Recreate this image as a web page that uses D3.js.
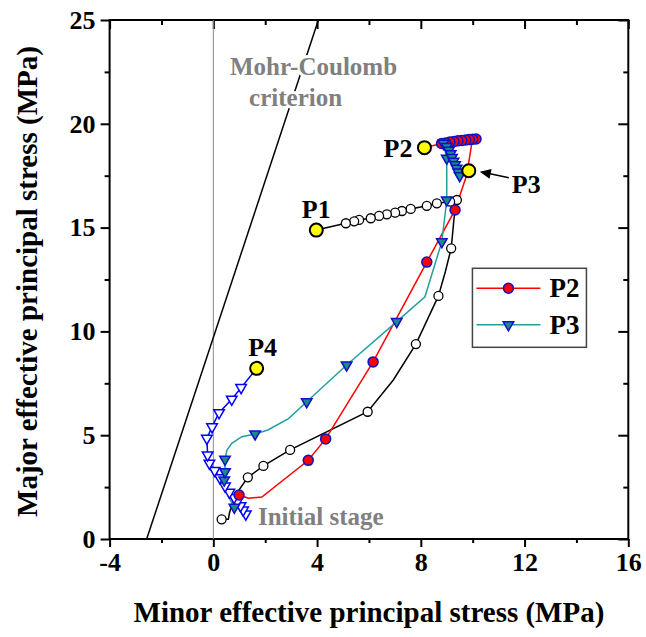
<!DOCTYPE html>
<html>
<head>
<meta charset="utf-8">
<script src="https://cdn.jsdelivr.net/npm/d3@7/dist/d3.min.js"></script>
<style>
  body { margin: 0; background: #fff; }
</style>
</head>
<body>
<script>
// Define SVG area dimensions
var svgWidth = 646;
var svgHeight = 637;

var chartMargin = { top: 20, right: 17.7, bottom: 98, left: 109.6 };
var chartWidth = svgWidth - chartMargin.left - chartMargin.right;
var chartHeight = svgHeight - chartMargin.top - chartMargin.bottom;

var fontFamily = "'Liberation Serif', 'Times New Roman', serif";

// Axis ticks
var xTicks = [-4, 0, 4, 8, 12, 16];
var xMinorTicks = [-2, 2, 6, 10, 14];
var yTicks = [0, 5, 10, 15, 20, 25];
var yMinorTicks = [2.5, 7.5, 12.5, 17.5, 22.5];

// Mohr-Coulomb criterion line (minor, major)
var mohrCoulomb = [[-2.57, 0], [4.05, 25]];

// P1 path (black, open circles) - line vertices and marked points
var p1Path = [[0.32, 0.95], [0.58, 0.95], [0.62, 1.24], [0.71, 1.64], [0.90, 2.20], [1.33, 2.97],
  [1.93, 3.52], [2.96, 4.29], [5.95, 6.13], [6.94, 7.66], [7.81, 9.39], [8.68, 11.71], [8.95, 12.9],
  [9.17, 14.0], [9.22, 14.64], [9.28, 15.45], [9.39, 16.33], [9.13, 16.25], [8.62, 16.17], [8.23, 16.05],
  [7.61, 15.90], [7.27, 15.80], [7.01, 15.72], [6.69, 15.64], [6.39, 15.56], [6.07, 15.45], [5.62, 15.37],
  [5.43, 15.30], [5.11, 15.21], [3.97, 14.88]];
var p1Marks = [[0.32, 0.95], [1.33, 2.97], [1.93, 3.52], [2.96, 4.29], [5.95, 6.13], [7.81, 9.39],
  [8.68, 11.71], [9.17, 14.0], [9.39, 16.33], [9.13, 16.25], [8.62, 16.17], [8.23, 16.05], [7.61, 15.90],
  [7.27, 15.80], [7.01, 15.72], [6.69, 15.64], [6.39, 15.56], [6.07, 15.45], [5.62, 15.37], [5.43, 15.30],
  [5.11, 15.21]];
var p1End = [3.97, 14.88];

// P2 path (red, filled circles)
var p2Path = [[0.99, 2.12], [1.35, 1.96], [1.87, 2.02], [3.66, 3.79], [4.33, 4.82], [6.16, 8.53],
  [8.23, 13.34], [9.32, 15.85], [9.77, 17.53], [9.97, 19.1], [10.13, 19.27], [10.0, 19.26], [9.87, 19.24],
  [9.73, 19.22], [9.58, 19.2], [9.43, 19.18], [9.28, 19.15], [9.12, 19.12], [8.96, 19.08], [8.8, 19.05],
  [8.14, 18.85]];
var p2Marks = [[0.99, 2.12], [3.66, 3.79], [4.33, 4.82], [6.16, 8.53], [8.23, 13.34], [9.32, 15.85],
  [10.13, 19.27], [10.0, 19.26], [9.87, 19.24], [9.73, 19.22], [9.58, 19.2], [9.43, 19.18], [9.28, 19.15],
  [9.12, 19.12], [8.96, 19.08], [8.8, 19.05]];
var p2End = [8.14, 18.85];

// P3 path (teal, filled down triangles)
var p3Path = [[0.81, 1.53], [0.58, 2.04], [0.42, 2.84], [0.45, 3.24], [0.45, 3.84], [0.52, 4.27],
  [0.71, 4.61], [1.10, 4.93], [1.61, 5.06], [2.1, 5.25], [2.9, 5.8], [3.60, 6.61], [5.14, 8.38],
  [7.07, 10.47], [8.16, 11.67], [8.81, 14.32], [9.0, 16.33], [9.0, 18.34], [8.87, 19.06], [9.0, 18.9],
  [9.08, 18.72], [9.15, 18.55], [9.2, 18.38], [9.26, 18.2], [9.32, 18.03], [9.38, 17.86], [9.44, 17.68],
  [9.5, 17.5], [9.85, 17.74]];
var p3Marks = [[0.81, 1.53], [0.42, 2.84], [0.45, 3.24], [0.45, 3.84], [1.61, 5.06], [3.60, 6.61],
  [5.14, 8.38], [7.07, 10.47], [8.81, 14.32], [9.0, 16.33], [9.0, 18.34], [8.87, 19.06], [9.0, 18.9],
  [9.08, 18.72], [9.15, 18.55], [9.2, 18.38], [9.26, 18.2], [9.32, 18.03], [9.38, 17.86], [9.44, 17.68],
  [9.5, 17.5]];
var p3End = [9.85, 17.74];

// P4 path (blue, open down triangles)
var p4Marks = [[1.25, 1.2], [1.15, 1.4], [1.05, 1.6], [0.92, 1.8], [0.8, 2.0], [0.62, 2.25], [0.45, 2.55],
  [0.25, 2.95], [0.05, 3.3], [-0.15, 3.65], [-0.22, 4.05], [-0.25, 4.85], [-0.05, 5.4], [0.22, 6.08],
  [0.71, 6.73], [1.07, 7.29]];
var p4End = [1.67, 8.22];

var legendNames = ["P2", "P3"];

// Select body, append SVG area
var svg = d3.select("body")
  .append("svg")
  .attr("width", svgWidth)
  .attr("height", svgHeight)
  .style("display", "block");

var chartGroup = svg.append("g")
  .attr("transform", `translate(${chartMargin.left}, ${chartMargin.top})`);

var x = d3.scaleLinear().domain([-4, 16]).range([0, chartWidth]);
var y = d3.scaleLinear().domain([0, 25]).range([chartHeight, 0]);

chartGroup.append("clipPath").attr("id", "plotClip")
  .append("rect").attr("width", chartWidth).attr("height", chartHeight);

function styleAxis(g) {
  g.select(".domain").remove();
  g.selectAll(".tick line").attr("stroke", "#000").attr("stroke-width", 2);
  g.selectAll(".tick text")
    .attr("fill", "#000")
    .attr("font-family", fontFamily)
    .attr("font-weight", "bold")
    .attr("font-size", "26px");
}

// bottom axis (outward ticks)
chartGroup.append("g")
  .attr("transform", `translate(0, ${chartHeight})`)
  .call(d3.axisBottom(x).tickValues(xTicks).tickSize(8).tickPadding(6).tickFormat(d => String(d)))
  .call(styleAxis);
chartGroup.append("g")
  .attr("transform", `translate(0, ${chartHeight})`)
  .call(d3.axisBottom(x).tickValues(xMinorTicks).tickSize(4).tickFormat(""))
  .call(styleAxis);

// left axis (outward ticks)
chartGroup.append("g")
  .call(d3.axisLeft(y).tickValues(yTicks).tickSize(9).tickPadding(5).tickFormat(d => String(d)))
  .call(styleAxis);
chartGroup.append("g")
  .call(d3.axisLeft(y).tickValues(yMinorTicks).tickSize(5).tickFormat(""))
  .call(styleAxis);

// top axis (inward ticks)
chartGroup.append("g")
  .call(d3.axisTop(x).tickValues(xTicks).tickSize(-9).tickFormat(""))
  .call(styleAxis);
chartGroup.append("g")
  .call(d3.axisTop(x).tickValues(xMinorTicks).tickSize(-5).tickFormat(""))
  .call(styleAxis);

// right axis (inward ticks)
chartGroup.append("g")
  .attr("transform", `translate(${chartWidth}, 0)`)
  .call(d3.axisRight(y).tickValues(yTicks).tickSize(-10).tickFormat(""))
  .call(styleAxis);
chartGroup.append("g")
  .attr("transform", `translate(${chartWidth}, 0)`)
  .call(d3.axisRight(y).tickValues(yMinorTicks).tickSize(-5).tickFormat(""))
  .call(styleAxis);

// frame
chartGroup.append("rect")
  .attr("width", chartWidth)
  .attr("height", chartHeight)
  .attr("fill", "none")
  .attr("stroke", "#000")
  .attr("stroke-width", 2);

// zero line
chartGroup.append("line")
  .attr("x1", x(0)).attr("x2", x(0))
  .attr("y1", y(0)).attr("y2", y(25))
  .attr("stroke", "#8a8a8a")
  .attr("stroke-width", 1);

var line = d3.line().x(d => x(d[0])).y(d => y(d[1]));

// Mohr-Coulomb line
chartGroup.append("path")
  .datum(mohrCoulomb)
  .attr("clip-path", "url(#plotClip)")
  .attr("d", line)
  .attr("fill", "none")
  .attr("stroke", "#000")
  .attr("stroke-width", 1.5);

// annotation text helper
function label(px, py, txt, opts) {
  opts = opts || {};
  return chartGroup.append("text")
    .attr("x", px).attr("y", py)
    .attr("text-anchor", opts.anchor || "start")
    .attr("font-family", fontFamily)
    .attr("font-weight", "bold")
    .attr("font-size", opts.size || "26px")
    .attr("fill", opts.fill || "#000")
    .attr("stroke", opts.halo ? "#fff" : null)
    .attr("stroke-width", opts.halo ? 6 : null)
    .attr("paint-order", "stroke")
    .text(txt);
}

label(x(0.64), y(22.35), "Mohr-Coulomb", { fill: "#808080", halo: true, size: "25px" });
label(x(1.38), y(20.86), "criterion", { fill: "#808080", halo: true, size: "25px" });

// series lines
var lineColors = { p1: "#000", p2: "#ff0000", p3: "#22a0a0", p4: "#0000ff" };

chartGroup.append("path").datum(p4Marks.concat([p4End]))
  .attr("d", line).attr("fill", "none").attr("stroke", lineColors.p4).attr("stroke-width", 1.5);
chartGroup.append("path").datum(p1Path)
  .attr("d", line).attr("fill", "none").attr("stroke", lineColors.p1).attr("stroke-width", 1.5);
chartGroup.append("path").datum(p2Path)
  .attr("d", line).attr("fill", "none").attr("stroke", lineColors.p2).attr("stroke-width", 1.5);
chartGroup.append("path").datum(p3Path)
  .attr("d", line).attr("fill", "none").attr("stroke", lineColors.p3).attr("stroke-width", 1.5);

var triDown = d3.symbol().type(d3.symbolTriangle).size(48);

// P4 open triangles
chartGroup.selectAll(".p4mark")
  .data(p4Marks)
  .enter()
  .append("path")
  .attr("class", "p4mark")
  .attr("d", triDown)
  .attr("transform", d => `translate(${x(d[0])}, ${y(d[1])}) rotate(180)`)
  .attr("fill", "#fff")
  .attr("stroke", "#0000ff")
  .attr("stroke-width", 1.5);

// P1 open circles
chartGroup.selectAll(".p1mark")
  .data(p1Marks)
  .enter()
  .append("circle")
  .attr("class", "p1mark")
  .attr("cx", d => x(d[0]))
  .attr("cy", d => y(d[1]))
  .attr("r", 4.5)
  .attr("fill", "#fff")
  .attr("stroke", "#000")
  .attr("stroke-width", 1.3);

// P2 red circles
chartGroup.selectAll(".p2mark")
  .data(p2Marks)
  .enter()
  .append("circle")
  .attr("class", "p2mark")
  .attr("cx", d => x(d[0]))
  .attr("cy", d => y(d[1]))
  .attr("r", 5)
  .attr("fill", "#ff0000")
  .attr("stroke", "#1010c8")
  .attr("stroke-width", 1.5);

// P3 teal triangles
chartGroup.selectAll(".p3mark")
  .data(p3Marks)
  .enter()
  .append("path")
  .attr("class", "p3mark")
  .attr("d", triDown)
  .attr("transform", d => `translate(${x(d[0])}, ${y(d[1])}) rotate(180)`)
  .attr("fill", "#1a8a8a")
  .attr("stroke", "#1010c8")
  .attr("stroke-width", 1.5);

// end points (yellow)
chartGroup.selectAll(".endpt")
  .data([p1End, p2End, p3End, p4End])
  .enter()
  .append("circle")
  .attr("class", "endpt")
  .attr("cx", d => x(d[0]))
  .attr("cy", d => y(d[1]))
  .attr("r", 6.5)
  .attr("fill", "#ffff00")
  .attr("stroke", "#000")
  .attr("stroke-width", 2);

// end point labels
label(x(p1End[0]), y(p1End[1]) - 12, "P1", { anchor: "middle" });
label(x(p2End[0]) - 12, y(p2End[1]) + 9, "P2", { anchor: "end" });
label(x(p4End[0]) + 6, y(p4End[1]) - 12, "P4", { anchor: "middle" });
label(x(p3End[0]) + 43, y(p3End[1]) + 22, "P3");

// arrow to P3
var ax0 = x(p3End[0]) + 40, ay0 = y(p3End[1]) + 7;
var ax1 = x(p3End[0]) + 11, ay1 = y(p3End[1]) + 1;
chartGroup.append("line")
  .attr("x1", ax0).attr("y1", ay0)
  .attr("x2", ax1 + 8).attr("y2", ay1 + 1.6)
  .attr("stroke", "#000").attr("stroke-width", 1.5);
var ang = Math.atan2(ay1 - ay0, ax1 - ax0) * 180 / Math.PI;
chartGroup.append("path")
  .attr("d", "M0,0 L-11,-5 L-11,5 Z")
  .attr("transform", `translate(${ax1}, ${ay1}) rotate(${ang})`)
  .attr("fill", "#000");

label(x(1.72), y(0.67), "Initial stage", { fill: "#808080", size: "25px" });

// legend
var legend = chartGroup.append("g")
  .attr("transform", `translate(${x(9.99)}, ${y(13.04)})`);
legend.append("rect")
  .attr("width", 114).attr("height", 79)
  .attr("fill", "#fff")
  .attr("stroke", "#444")
  .attr("stroke-width", 1.5);
legendNames.forEach(function (name, i) {
  var ly = 20 + i * 36.5;
  var row = legend.append("g").attr("transform", `translate(0, ${ly})`);
  row.append("line")
    .attr("x1", 4).attr("x2", 68)
    .attr("stroke", i === 0 ? lineColors.p2 : lineColors.p3)
    .attr("stroke-width", 1.5);
  if (i === 0) {
    row.append("circle").attr("cx", 36).attr("r", 5)
      .attr("fill", "#ff0000").attr("stroke", "#1010c8").attr("stroke-width", 1.5);
  } else {
    row.append("path").attr("d", triDown)
      .attr("transform", "translate(36, 0) rotate(180)")
      .attr("fill", "#1a8a8a").attr("stroke", "#1010c8").attr("stroke-width", 1.5);
  }
  row.append("text")
    .attr("x", 77).attr("y", 9)
    .attr("font-family", fontFamily)
    .attr("font-weight", "bold")
    .attr("font-size", "27px")
    .text(name);
});

// axis titles
chartGroup.append("text")
  .attr("x", chartWidth / 2)
  .attr("y", chartHeight + 83)
  .attr("text-anchor", "middle")
  .attr("font-family", fontFamily)
  .attr("font-weight", "bold")
  .attr("font-size", "29px")
  .text("Minor effective principal stress (MPa)");

chartGroup.append("text")
  .attr("transform", "rotate(-90)")
  .attr("x", -chartHeight / 2 - 2)
  .attr("y", -73)
  .attr("text-anchor", "middle")
  .attr("font-family", fontFamily)
  .attr("font-weight", "bold")
  .attr("font-size", "29px")
  .text("Major effective principal stress (MPa)");
</script>
</body>
</html>
